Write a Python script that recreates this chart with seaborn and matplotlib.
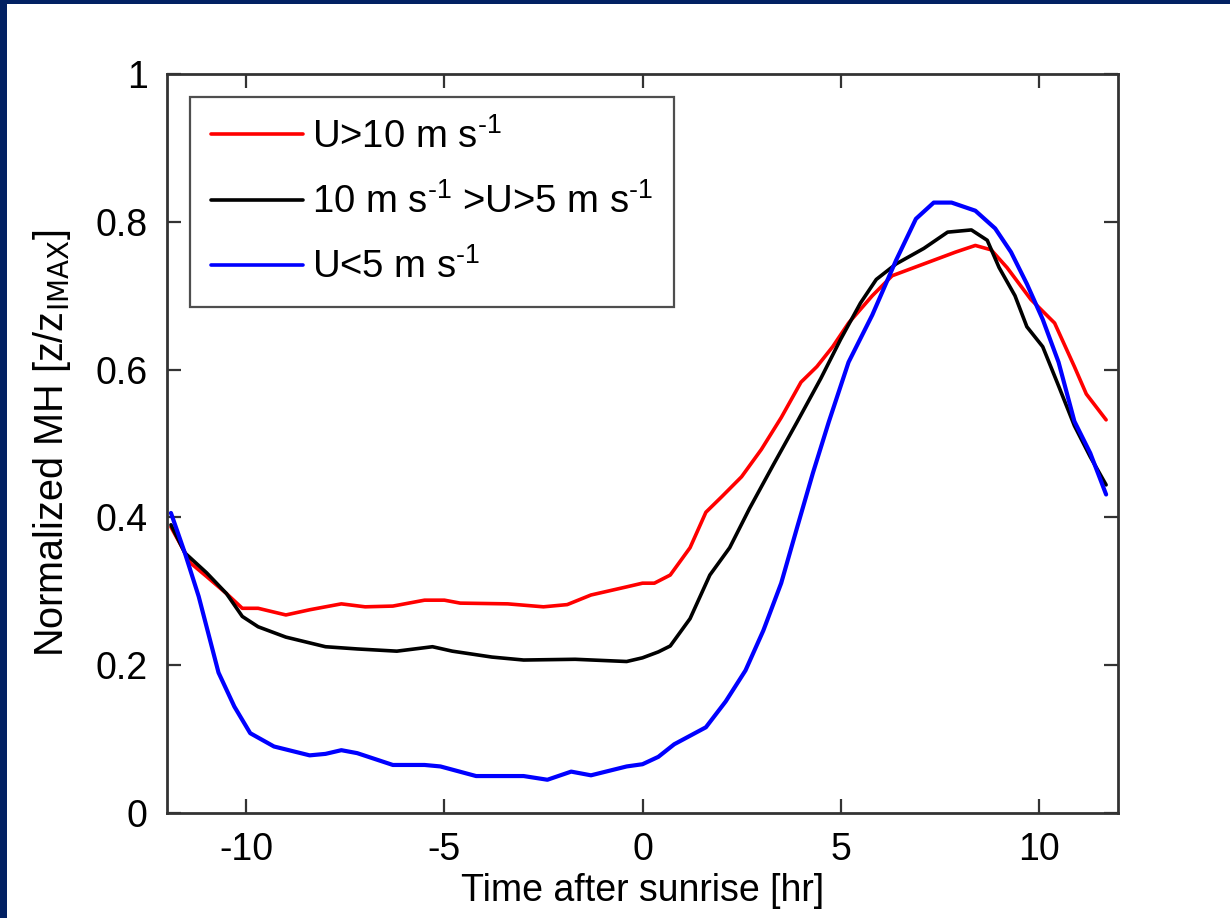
import numpy as np
import pandas as pd
import matplotlib
matplotlib.use("Agg")
import matplotlib.pyplot as plt
from matplotlib.patches import Rectangle
import seaborn as sns

# ---- data ----
red_x = [-11.9, -11.4, -11.0, -10.5, -10.1, -9.7, -9.0, -8.4, -7.6, -7.0, -6.3, -5.5, -5.0, -4.6,
         -3.4, -2.5, -1.9, -1.3, -0.4, 0.0, 0.3, 0.7, 1.2, 1.6, 2.0, 2.5, 3.0, 3.5, 4.0, 4.4, 4.8,
         5.2, 5.8, 6.3, 7.1, 7.9, 8.4, 8.8, 9.2, 9.8, 10.4, 10.9, 11.2, 11.7]
red_y = [0.387, 0.338, 0.320, 0.297, 0.277, 0.277, 0.268, 0.275, 0.283, 0.279, 0.280, 0.288, 0.288, 0.284,
         0.283, 0.279, 0.282, 0.295, 0.306, 0.311, 0.311, 0.322, 0.359, 0.407, 0.428, 0.455, 0.492, 0.535,
         0.583, 0.604, 0.631, 0.663, 0.700, 0.727, 0.743, 0.759, 0.768, 0.762, 0.738, 0.695, 0.663, 0.604,
         0.567, 0.532]

black_x = [-11.9, -11.55, -11.0, -10.5, -10.1, -9.7, -9.0, -8.0, -7.2, -6.2, -5.3, -4.8, -3.8, -3.0,
           -1.7, -0.4, 0.0, 0.4, 0.7, 1.2, 1.7, 2.2, 2.7, 3.3, 3.9, 4.5, 5.0, 5.5, 5.9, 6.4, 7.1, 7.7,
           8.3, 8.7, 9.0, 9.4, 9.7, 10.1, 10.5, 10.9, 11.3, 11.7]
black_y = [0.390, 0.352, 0.325, 0.297, 0.266, 0.252, 0.238, 0.225, 0.222, 0.219, 0.225, 0.219, 0.211, 0.207,
           0.208, 0.205, 0.210, 0.218, 0.226, 0.263, 0.322, 0.359, 0.412, 0.471, 0.529, 0.588, 0.641, 0.690,
           0.722, 0.743, 0.764, 0.786, 0.789, 0.775, 0.738, 0.700, 0.658, 0.631, 0.578, 0.524, 0.482, 0.444]

blue_x = [-11.9, -11.55, -11.2, -10.7, -10.3, -9.9, -9.3, -8.4, -8.0, -7.6, -7.2, -6.3, -5.5, -5.1,
          -4.2, -3.0, -2.4, -1.8, -1.3, -0.4, 0.0, 0.4, 0.8, 1.6, 2.1, 2.6, 3.05, 3.5, 3.9, 4.3, 4.7,
          5.2, 5.8, 6.4, 6.9, 7.35, 7.8, 8.4, 8.9, 9.3, 9.7, 10.1, 10.5, 10.9, 11.3, 11.7]
blue_y = [0.406, 0.352, 0.293, 0.190, 0.144, 0.108, 0.090, 0.078, 0.080, 0.085, 0.081, 0.065, 0.065, 0.063,
          0.050, 0.050, 0.045, 0.056, 0.051, 0.063, 0.066, 0.076, 0.093, 0.116, 0.151, 0.193, 0.247, 0.311,
          0.386, 0.460, 0.529, 0.610, 0.674, 0.748, 0.804, 0.826, 0.826, 0.815, 0.791, 0.759, 0.716, 0.668,
          0.610, 0.530, 0.487, 0.431]

SUP = "$^{\u2010" + "1}$"   # superscript "-1" drawn with a hyphen, as in the reference
labels = ["U>10 m s" + SUP, "10 m s" + SUP + " >U>5 m s" + SUP, "U<5 m s" + SUP]
colors = ["#ff0000", "#000000", "#0000ff"]
x_ticks = [-10, -5, 0, 5, 10]
y_ticks = [0, 0.2, 0.4, 0.6, 0.8, 1]
y_ticklabels = ["0", "0.2", "0.4", "0.6", "0.8", "1"]

df = pd.concat([
    pd.DataFrame({"t": red_x, "v": red_y, "s": labels[0]}),
    pd.DataFrame({"t": black_x, "v": black_y, "s": labels[1]}),
    pd.DataFrame({"t": blue_x, "v": blue_y, "s": labels[2]}),
], ignore_index=True)

sns.set_style("ticks")
plt.rcParams["font.family"] = ["Liberation Sans", "DejaVu Sans"]
plt.rcParams["mathtext.default"] = "regular"
plt.rcParams["axes.unicode_minus"] = False
plt.rcParams["text.color"] = "black"
plt.rcParams["axes.labelcolor"] = "black"
plt.rcParams["xtick.color"] = "black"
plt.rcParams["ytick.color"] = "black"

fig = plt.figure(figsize=(12.3, 9.18), dpi=100)
fig.patch.set_facecolor("white")
ax = fig.add_axes([167 / 1230, 105 / 918, (1118 - 167) / 1230, (813 - 74) / 918])

sns.lineplot(data=df, x="t", y="v", hue="s", palette=dict(zip(labels, colors)),
             hue_order=labels, ax=ax, linewidth=2.6, sort=False, estimator=None)
ax.lines[2].set_linewidth(3.0)

ax.set_xlim(-12, 12)
ax.set_ylim(0, 1)
ax.set_xticks(x_ticks)
ax.set_yticks(y_ticks)
ax.set_yticklabels(y_ticklabels)
ax.tick_params(axis="both", which="both", direction="in", length=10, width=1.6,
               colors="#333333", labelcolor="black", labelsize=27, top=True, right=True, pad=14)
for sp in ax.spines.values():
    sp.set_visible(True)
    sp.set_linewidth(2.0)
    sp.set_color("#333333")

ax.set_xlabel("Time after sunrise [hr]", fontsize=27, labelpad=3)
ax.set_ylabel(r"Normalized MH [z/z$_{\mathrm{IMAX}}$]", fontsize=28.5, labelpad=16)

leg = ax.legend(loc="upper left", fontsize=27.5, frameon=True, fancybox=False, shadow=False,
                edgecolor="#222222", handlelength=2.4, handletextpad=0.25, labelspacing=0.72,
                borderpad=0.55, borderaxespad=0.6, title=None)
leg.get_frame().set_linewidth(1.6)
for h in leg.get_lines():
    h.set_linewidth(2.6)

# dark navy frame strips (top and left) of the slide
fig.patches.append(Rectangle((0, 1 - 4 / 918), 1, 4 / 918, transform=fig.transFigure,
                             facecolor="#022163", edgecolor="none", zorder=10))
fig.patches.append(Rectangle((0, 0), 7 / 1230, 1, transform=fig.transFigure,
                             facecolor="#022163", edgecolor="none", zorder=10))

fig.savefig("out.png", dpi=100)
